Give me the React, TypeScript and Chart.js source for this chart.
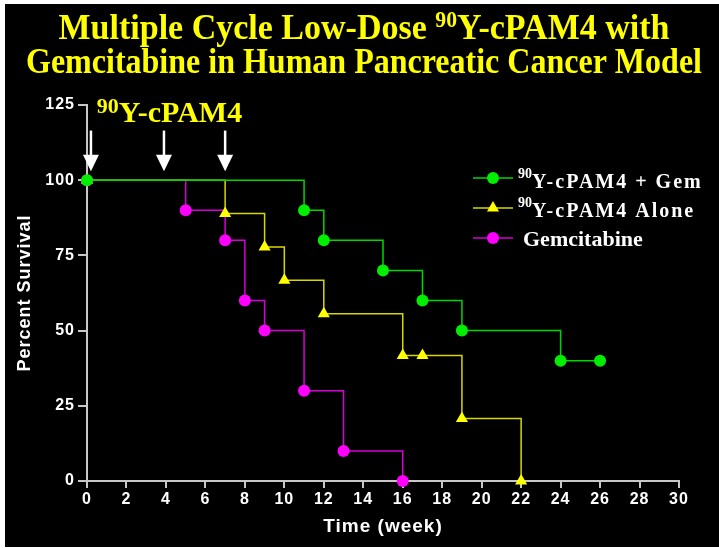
import React, { useEffect, useRef } from 'react';
import { Chart, registerables } from 'chart.js';

Chart.register(...registerables);

// ---------------- data ----------------
const comboWeeks = [0, 11, 12, 15, 17, 19, 24, 26];
const comboSurvival = [100, 90, 80, 70, 60, 50, 40, 40];
const aloneWeeks = [0, 7, 9, 10, 12, 16, 17, 19, 22];
const aloneSurvival = [100, 88.9, 77.8, 66.7, 55.6, 41.7, 41.7, 20.8, 0];
const gemWeeks = [0, 5, 7, 8, 9, 11, 13, 16];
const gemSurvival = [100, 90, 80, 60, 50, 30, 10, 0];
const doseWeeks = [0.2, 3.9, 7];

const seriesNames = ['90Y-cPAM4 + Gem', '90Y-cPAM4 Alone', 'Gemcitabine'];
const legendLabels = [
  [{ text: '90', sup: true }, { text: 'Y-cPAM4 + Gem' }],
  [{ text: '90', sup: true }, { text: 'Y-cPAM4 Alone' }],
  [{ text: 'Gemcitabine' }],
];
const titleLines = [
  [{ text: 'Multiple Cycle Low-Dose ' }, { text: '90', sup: true }, { text: 'Y-cPAM4 with' }],
  [{ text: 'Gemcitabine in Human Pancreatic Cancer Model' }],
];
const doseLabel = [{ text: '90', sup: true }, { text: 'Y-cPAM4' }];
const xTitle = 'Time (week)';
const yTitle = 'Percent Survival';

// ---------------- styles ----------------
const SANS = "'Liberation Sans', Arial, sans-serif";
const SERIF = "'Liberation Serif', 'Times New Roman', serif";
const lineColors = ['rgb(0,215,0)', 'rgb(215,215,0)', 'rgb(215,0,215)'];
const markerColors = ['#00ee00', '#ffff00', '#ff00ff'];
const markerStyles = ['circle', 'triangle', 'circle'];
const markerRadius = [6, 7, 6];
const AXIS = '#c8c8c8';

type Part = { text: string; sup?: boolean };

function drawRich(
  ctx: CanvasRenderingContext2D,
  parts: Part[],
  x: number,
  y: number,
  o: { size: number; supSize: number; rise: number; family: string; color: string; spacing?: number; align?: 'left' | 'center'; target?: number; weight?: string }
) {
  ctx.save();
  const weight = o.weight || 'bold';
  const widths: number[] = [];
  let W = 0;
  parts.forEach((p) => {
    ctx.font = `${weight} ${p.sup ? o.supSize : o.size}px ${o.family}`;
    (ctx as any).letterSpacing = p.sup ? '0px' : `${o.spacing || 0}px`;
    const w = ctx.measureText(p.text).width;
    widths.push(w);
    W += w;
  });
  const sx = o.target ? o.target / W : 1;
  const x0 = o.align === 'center' ? x - (W * sx) / 2 : x;
  ctx.translate(x0, y);
  ctx.scale(sx, 1);
  ctx.fillStyle = o.color;
  ctx.textBaseline = 'alphabetic';
  ctx.textAlign = 'left';
  let cx = 0;
  parts.forEach((p, i) => {
    ctx.font = `${weight} ${p.sup ? o.supSize : o.size}px ${o.family}`;
    (ctx as any).letterSpacing = p.sup ? '0px' : `${o.spacing || 0}px`;
    ctx.fillText(p.text, cx, p.sup ? -o.rise : 0);
    cx += widths[i];
  });
  ctx.restore();
}

function drawMarker(ctx: CanvasRenderingContext2D, style: string, x: number, y: number, r: number, color: string) {
  ctx.save();
  ctx.fillStyle = color;
  ctx.beginPath();
  if (style === 'triangle') {
    let rad = 0;
    ctx.moveTo(x + Math.sin(rad) * r, y - Math.cos(rad) * r);
    rad += (2 * Math.PI) / 3;
    ctx.lineTo(x + Math.sin(rad) * r, y - Math.cos(rad) * r);
    rad += (2 * Math.PI) / 3;
    ctx.lineTo(x + Math.sin(rad) * r, y - Math.cos(rad) * r);
    ctx.closePath();
  } else {
    ctx.arc(x, y, r, 0, Math.PI * 2);
  }
  ctx.fill();
  ctx.restore();
}

const spacingPlugin = {
  id: 'spacing',
  beforeLayout(chart: any) {
    chart.ctx.letterSpacing = '1px';
  },
  beforeDraw(chart: any) {
    chart.ctx.letterSpacing = '1px';
  },
};

const overlayPlugin = {
  id: 'overlay',
  afterDraw(chart: any) {
    const ctx: CanvasRenderingContext2D = chart.ctx;
    const xs = chart.scales.x;
    const ys = chart.scales.y;
    ctx.save();
    (ctx as any).letterSpacing = '0px';

    // title
    const titleWidths = [611, 676];
    const titleBase = [35, 69];
    titleLines.forEach((line, i) => {
      drawRich(ctx, line, 359, titleBase[i], {
        size: 36, supSize: 23, rise: 12, family: SERIF, color: '#ffff00', align: 'center', target: titleWidths[i],
      });
    });

    // dose arrows
    ctx.fillStyle = '#ffffff';
    ctx.strokeStyle = '#ffffff';
    doseWeeks.forEach((w) => {
      const px = xs.getPixelForValue(w);
      const top = ys.getPixelForValue(116.5);
      const base = ys.getPixelForValue(108.5);
      const tip = ys.getPixelForValue(103);
      ctx.lineWidth = 2.5;
      ctx.beginPath();
      ctx.moveTo(px, top);
      ctx.lineTo(px, base + 1);
      ctx.stroke();
      ctx.beginPath();
      ctx.moveTo(px - 8, base);
      ctx.lineTo(px + 8, base);
      ctx.lineTo(px, tip);
      ctx.closePath();
      ctx.fill();
    });

    // dose label
    drawRich(ctx, doseLabel, xs.getPixelForValue(0.5), ys.getPixelForValue(119.3), {
      size: 30, supSize: 22, rise: 9, family: SERIF, color: '#ffff00', align: 'left',
    });

    // legend
    const rowY = [174, 204, 234];
    const baseY = [184, 213, 242];
    legendLabels.forEach((lab, i) => {
      ctx.strokeStyle = lineColors[i];
      ctx.lineWidth = 1.5;
      ctx.beginPath();
      ctx.moveTo(468, rowY[i]);
      ctx.lineTo(508, rowY[i]);
      ctx.stroke();
      drawMarker(ctx, markerStyles[i], 488, rowY[i], markerRadius[i], markerColors[i]);
      const isPlain = lab.length === 1;
      drawRich(ctx, lab, isPlain ? 518 : 513, baseY[i], {
        size: isPlain ? 22 : 20, supSize: 14, rise: 10, family: SERIF, color: '#ffffff',
        spacing: isPlain ? 0 : 2, align: 'left',
      });
    });
    ctx.restore();
  },
};

function makeSeries(i: number, xsArr: number[], ysArr: number[]) {
  return {
    label: seriesNames[i],
    data: xsArr.map((x, k) => ({ x, y: ysArr[k] })),
    borderColor: lineColors[i],
    backgroundColor: markerColors[i],
    pointBackgroundColor: markerColors[i],
    pointBorderColor: markerColors[i],
    pointBorderWidth: 0,
    pointStyle: markerStyles[i],
    pointRadius: markerRadius[i],
    borderWidth: 1.5,
    stepped: 'before',
    fill: false,
    clip: false,
  };
}

export default function App() {
  const ref = useRef<HTMLCanvasElement>(null);
  useEffect(() => {
    if (!ref.current) return;
    const chart = new Chart(ref.current, {
      type: 'line',
      data: {
        datasets: [
          makeSeries(0, comboWeeks, comboSurvival),
          makeSeries(1, aloneWeeks, aloneSurvival),
          makeSeries(2, gemWeeks, gemSurvival),
        ] as any,
      },
      options: {
        animation: false,
        responsive: true,
        maintainAspectRatio: false,
        layout: { padding: { top: 101, right: 40, left: 0, bottom: 0 } },
        plugins: { legend: { display: false }, tooltip: { enabled: false }, title: { display: false } },
        scales: {
          x: {
            type: 'linear',
            min: 0,
            max: 30,
            ticks: { stepSize: 2, color: '#ffffff', font: { family: SANS, size: 16, weight: 'bold' }, padding: 2, maxRotation: 0, autoSkip: false },
            grid: { drawOnChartArea: false, color: AXIS, lineWidth: 2, tickLength: 7 },
            border: { color: AXIS, width: 2 },
            title: { display: true, text: xTitle, color: '#ffffff', font: { family: SANS, size: 19, weight: 'bold' }, padding: { top: 0, bottom: 9 } },
            afterFit: (s: any) => { s.height = 66; },
          },
          y: {
            type: 'linear',
            min: 0,
            max: 125,
            ticks: { stepSize: 25, color: '#ffffff', font: { family: SANS, size: 16, weight: 'bold' }, padding: 3 },
            grid: { drawOnChartArea: false, color: AXIS, lineWidth: 2, tickLength: 9 },
            border: { color: AXIS, width: 2 },
            title: { display: true, text: yTitle, color: '#ffffff', font: { family: SANS, size: 18, weight: 'bold' }, padding: { top: 9, bottom: 0 } },
            afterFit: (s: any) => { s.width = 82; },
          },
        },
      } as any,
      plugins: [spacingPlugin, overlayPlugin],
    });
    return () => chart.destroy();
  }, []);
  return (
    <div style={{ position: 'absolute', left: 5, top: 4, width: 714, height: 543, background: '#000000' }}>
      <canvas ref={ref} />
    </div>
  );
}
